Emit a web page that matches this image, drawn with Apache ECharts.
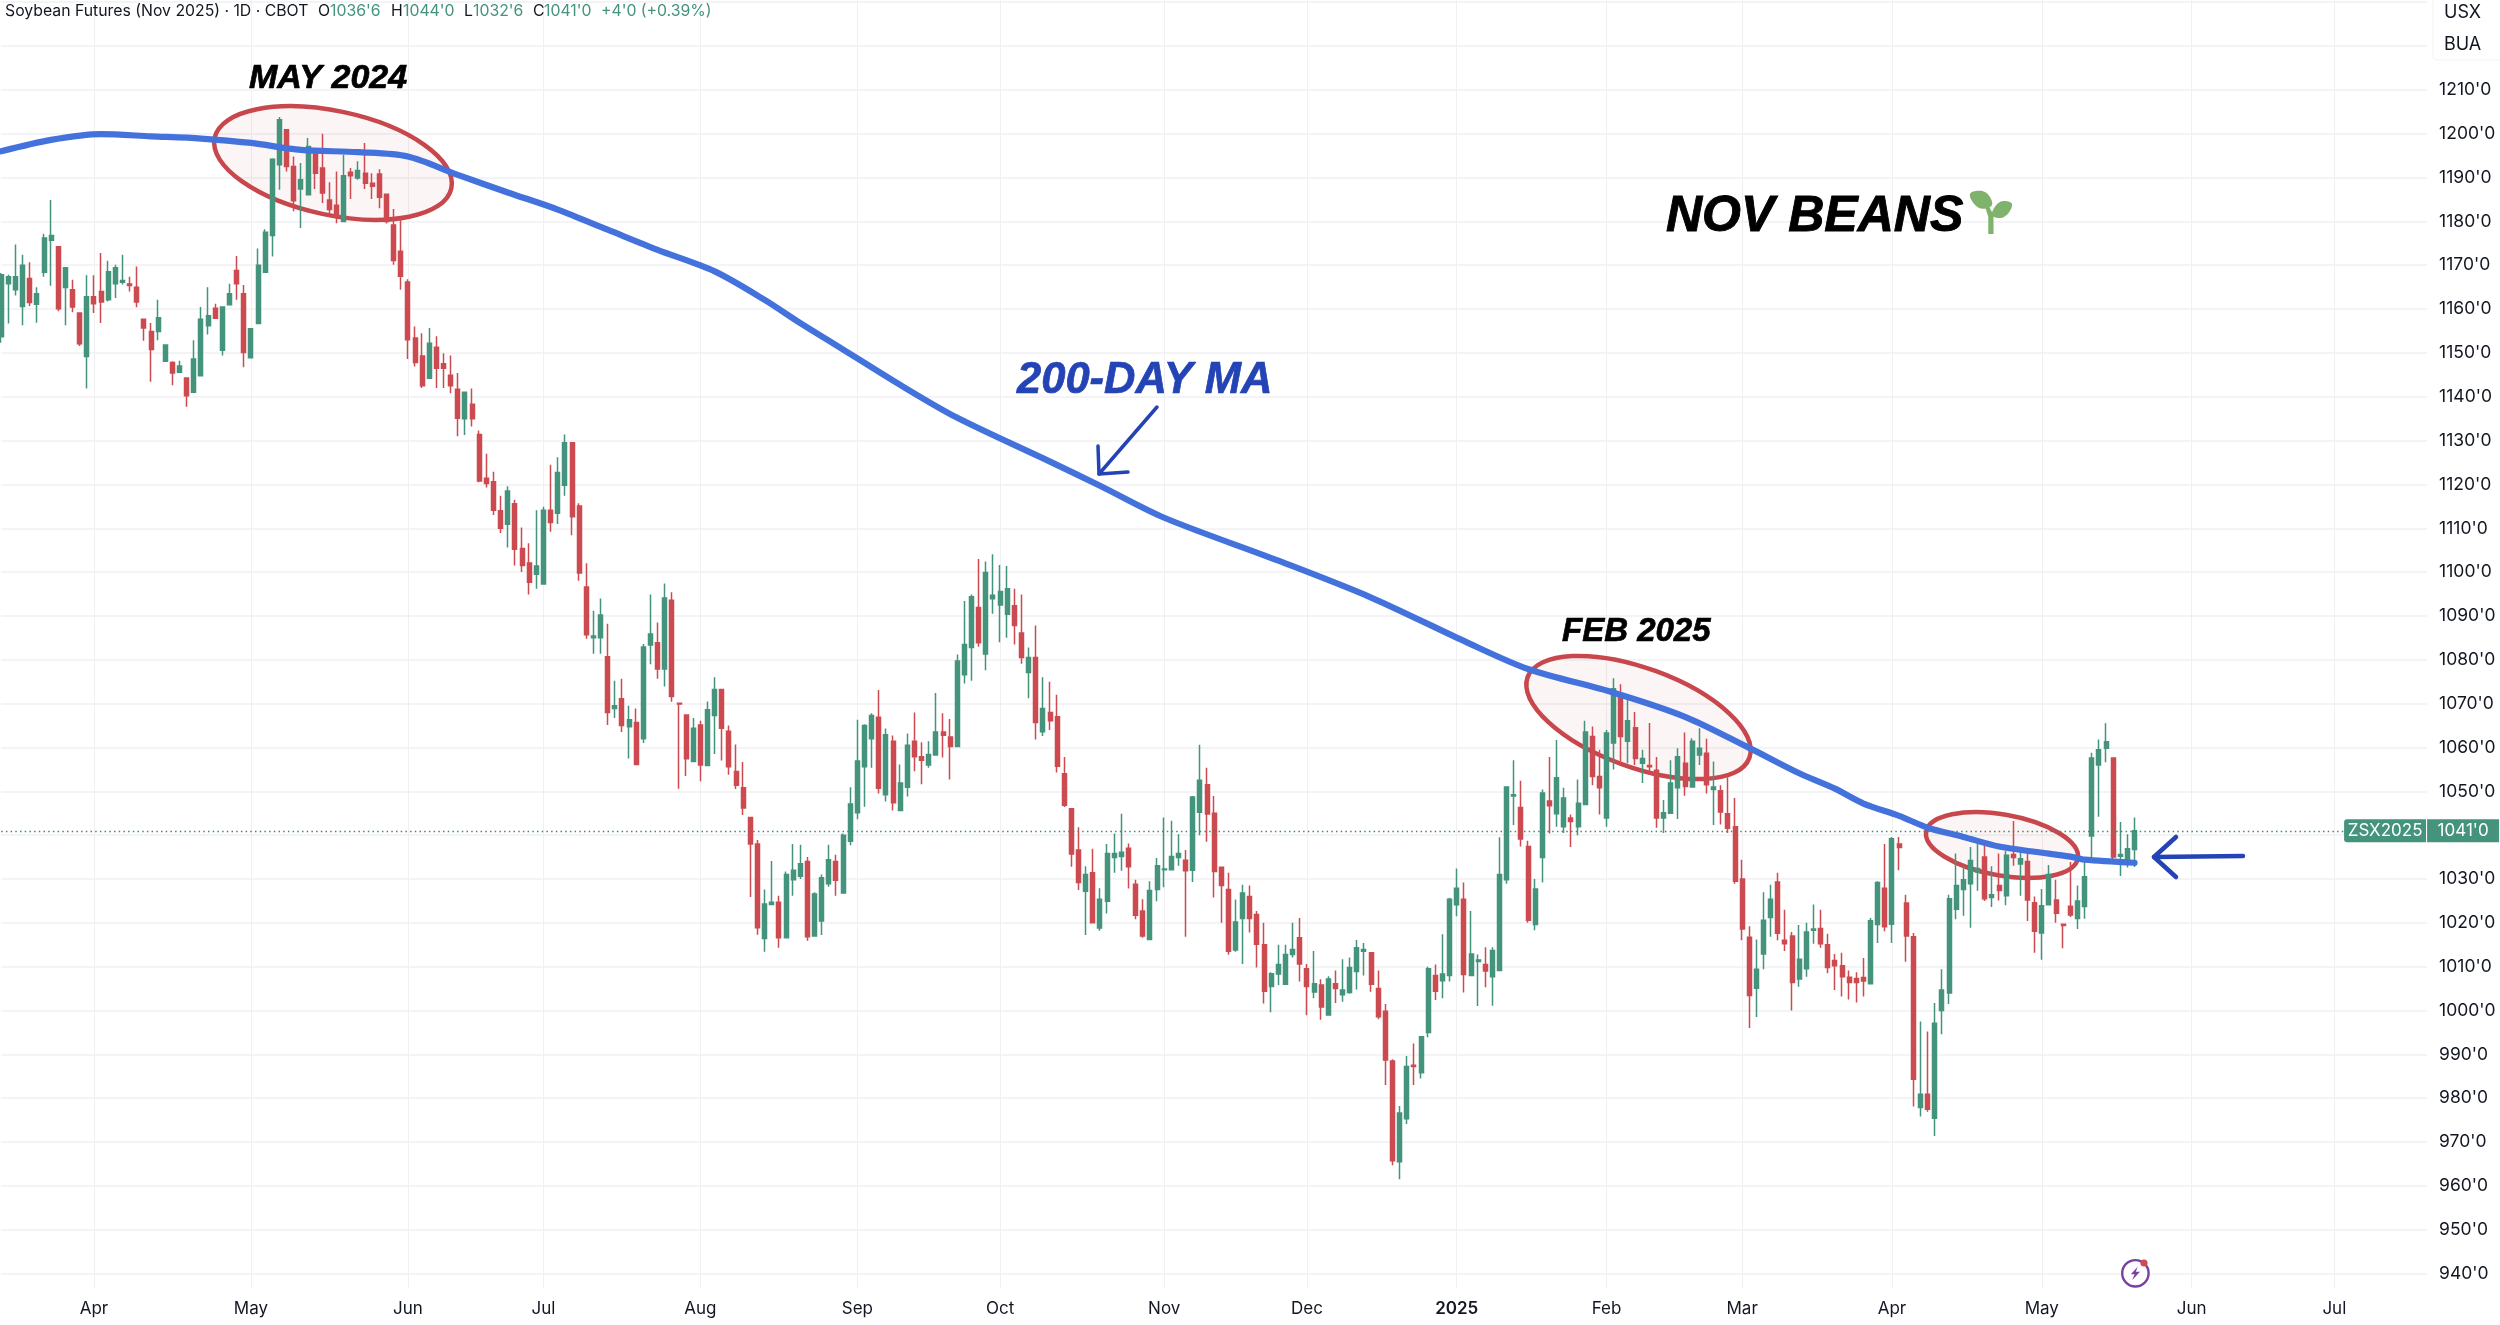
<!DOCTYPE html>
<html><head><meta charset="utf-8">
<style>html,body{margin:0;padding:0;background:#fff}#c{width:2500px;height:1325px}</style>
<script src="https://cdn.jsdelivr.net/npm/echarts@6/dist/echarts.min.js"></script>
</head><body><div id="c"></div>
<script>
const opens=[
1153.7,1165.8,1164.4,1160.6,1167,1161.1,1168.4,1175.7,1174.2,1164.9,
1164.4,1159.1,1149.2,1162.8,1164,1162.1,1165.8,1166.1,1165.7,1165,
1157.7,1154.9,1154.9,1148.1,1147.8,1145.6,1144.3,1141,1144.8,1156.2,
1160.2,1150.6,1161,1168.8,1163.5,1148.9,1156.7,1168.4,1176.8,1192.9,
1200.9,1192.5,1187.4,1186.1,1196,1192.2,1184.9,1183.7,1180,1191.2,
1189.9,1191,1188.7,1190.8,1186.2,1179.2,1173.2,1166.2,1153.4,1149.3,
1144.2,1151.3,1147.5,1144.9,1141.7,1135,1138.3,1131.4,1121.4,1120.6,
1114,1110.9,1115.6,1105.4,1102.1,1099.5,1097.3,1114.1,1113.4,1119.8,
1129.5,1115.1,1096.6,1085,1085,1080.7,1068.9,1071.1,1064.7,1065.7,
1062,1083.4,1083.9,1077.9,1093.6,1070.1,1067.4,1056.8,1065.1,1055.9,
1067.3,1073.2,1063.7,1054.5,1050.8,1044,1038,1016.4,1024.2,1024.7,
1016.6,1029.8,1030.6,1034,1017,1020.4,1028.9,1034,1026.8,1038.6,
1045.1,1055.6,1062,1066.9,1049.2,1061.4,1045.6,1050.9,1061.4,1057.9,
1056,1058.3,1063.5,1062.4,1060.2,1076.6,1082.8,1091.9,1081.3,1093.9,
1092.5,1090.4,1092.3,1086.1,1077.1,1080.5,1063.6,1068,1067,1054,
1046,1036.6,1027.2,1031.4,1018.8,1024.9,1034.9,1035.1,1037,1028.8,
1022.7,1016.2,1027.6,1032.1,1032.1,1034.9,1034.3,1032,1045.2,1051.5,
1045,1032.7,1027.6,1013.8,1021,1026,1021.9,1015,1005.5,1008.3,
1006,1012.8,1016.6,1009.5,1004.2,1005.8,999,1006.1,1003.6,1004.1,
1008.9,1013.5,1013.2,1005,999.8,988.5,965.5,975.3,987.5,985.8,
995,1008,1006.8,1008,1024.1,1025.4,1008,1011.2,1010.5,1007.7,
1009.1,1029.8,1048.9,1046.3,1037.4,1019.6,1034.9,1047.8,1044.9,1041.9,
1043.9,1041.9,1047,1062.5,1053.4,1043.9,1061,1072,1061.4,1064.5,
1056.4,1055.9,1054.8,1043.9,1045,1050.8,1056.4,1051,1058.3,1058.7,
1050.4,1050.1,1044.9,1041.9,1030,1016.7,1005.1,1012.9,1021.2,1029.3,
1016,1017,1007.2,1009.5,1018.3,1018.7,1015,1011.4,1010.2,1007.6,
1007.3,1007.5,1006.1,1019.6,1027.9,1019.7,1038,1024.5,1016.8,977.9,
980.9,975.4,1000,1004,1023.1,1027.6,1028.9,1031.6,1035,1025.8,
1028.5,1026.2,1035.6,1033.4,1034,1024.6,1017.7,1024.1,1025.2,1019.7,
1023.8,1021,1023.7,1039.8,1056,1059.8,1057.6,1035.2,1034.4,1036.75];
const closes=[
1167.8,1167.4,1167.4,1170,1161.5,1163.5,1176.2,1176.8,1160.1,1169.4,
1160.5,1152.1,1162.8,1161.2,1161.6,1168.5,1169.4,1166.5,1165.4,1161.6,
1155.7,1150.8,1158,1151.8,1145.4,1147,1140.2,1148.6,1157.7,1158.5,
1157.9,1160.5,1163.5,1165.8,1150.1,1155.5,1170,1177.5,1194.2,1203.2,
1192.5,1184.7,1189.5,1197.1,1191,1186.5,1182.7,1181.1,1190.4,1190.4,
1191.6,1188.7,1188,1185.5,1180,1171.1,1167.5,1153,1147.8,1142.5,
1152.2,1146.5,1146.5,1142.5,1135.1,1141,1135,1120.8,1120.2,1114.1,
1110,1118.5,1105.2,1101.5,1097.7,1101.4,1114.1,1111.3,1122.7,1129.5,
1112.6,1099.8,1085.7,1085.4,1090.2,1068,1069.5,1065,1066.3,1056.1,
1082.9,1085.9,1077.9,1094.1,1071.6,1069.9,1057.4,1064.4,1056,1068.6,
1073.2,1064.4,1055.6,1051.4,1046.2,1038,1018.9,1024.3,1024.7,1016.6,
1031,1032,1033.5,1016.8,1026.6,1030.3,1034.4,1029.7,1040,1047.1,
1056.9,1065,1067.3,1050.7,1062.9,1047.4,1051.9,1060.5,1057.9,1057.1,
1058.4,1063.5,1062.8,1060.2,1079.7,1083.5,1094.4,1083.9,1099.9,1094.7,
1095.6,1096.2,1087.8,1080.5,1080.5,1065.7,1068.9,1066.1,1055.7,1046.8,
1035.7,1029.2,1031,1020,1025.4,1035.8,1035.8,1036.1,1032.8,1021.7,
1017,1027.4,1033,1032.3,1035.1,1035.8,1031.9,1048.7,1052.5,1044.8,
1031.7,1028.5,1013.5,1020.2,1026.8,1021,1015.1,1004.4,1008.4,1010.5,
1012.8,1013.9,1010.6,1005.5,1006.1,1000.8,1007.2,1005,1004.7,1009.8,
1014.3,1013.9,1006,998.6,988.7,965.7,976.6,987.2,987.2,994,
1009.5,1004.4,1008.3,1025.4,1027.9,1008.2,1012.9,1011.5,1009,1013.7,
1031,1051,1049.2,1039.1,1020.6,1027.7,1049.6,1046.7,1053.1,1048.5,
1043.1,1047.3,1063.5,1053.4,1050.8,1063.3,1073.4,1062.5,1066.1,1057.5,
1057.5,1055.6,1043.9,1045.1,1051.9,1057.9,1051.1,1061.4,1059.8,1051.5,
1051,1045.3,1041.6,1029.5,1018.6,1003.4,1009.4,1020.6,1025.4,1017.6,
1015.2,1006.4,1011.7,1017.9,1018.6,1015.2,1009.8,1010.2,1007.7,1006.4,
1006.4,1006.7,1020.5,1029.2,1019.1,1039.2,1037.2,1017,984.3,980.9,
977.5,997.1,1004.7,1025.5,1028.5,1029.8,1034.2,1032.4,1025.5,1026.4,
1027.4,1035.4,1034.9,1034.6,1025.2,1018.1,1023.9,1031,1022.2,1019.4,
1021.8,1025,1030.5,1057.6,1059.5,1061.3,1035,1035.6,1036.9,1041];
const lows=[
1152.3,1156.7,1163.1,1156.3,1160.7,1156.9,1167.4,1165.3,1159.5,1156.3,
1159.3,1151.6,1141.9,1159.1,1156.8,1161.7,1162.5,1165.6,1164,1160.4,
1152.8,1143.4,1152.9,1148.1,1142.6,1145.5,1137.7,1141,1144.8,1154.2,
1157.9,1149.4,1161,1162.1,1146.7,1148.9,1156.7,1168.4,1172,1187.2,
1191.4,1182.3,1178.5,1186.1,1187.4,1184.2,1181.9,1179.6,1180,1185.1,
1189.5,1187.4,1185.1,1183,1179.5,1170.1,1164.4,1148.6,1146.9,1142,
1144.2,1142,1142,1140.8,1131,1131.3,1133.2,1120.5,1119.3,1113,
1108.9,1105.6,1101.5,1100,1094.9,1096.2,1097.3,1109.2,1111,1117.4,
1108.4,1098,1084.8,1081.4,1081.4,1065.1,1066.7,1063.5,1057.5,1056.1,
1061,1079,1075.7,1073.9,1070.4,1050.6,1053.5,1056.8,1052.3,1055.9,
1058.5,1057,1053.8,1050.5,1044.6,1025.9,1017.3,1013.4,1024.2,1014.3,
1016.6,1026.2,1030,1015.9,1017,1017.2,1028.2,1026.2,1026.8,1037.7,
1043.6,1046.5,1055.4,1049.5,1047.7,1045.6,1045.6,1048.8,1054.6,1051.6,
1055.4,1058.3,1057.7,1052.7,1060.2,1074.6,1075.2,1083,1077.6,1090.5,
1084,1085,1083.5,1079.1,1071.2,1061.8,1062.6,1064,1054.3,1046.4,
1032.8,1027.5,1017.2,1020,1018.2,1022.1,1031.4,1031.9,1027.8,1020.8,
1016.6,1016,1024.9,1028.1,1032.1,1033,1016.8,1029.3,1040,1038.5,
1025.8,1020,1012.7,1013.4,1010.6,1017.8,1009.8,1001.6,999.6,1005.8,
1005.8,1012.1,1006.6,998.9,1002.8,997.9,999,1001.7,1002,1003.8,
1004.8,1008,1004.3,998,983,964.7,961.5,974.1,983,984.5,
993.9,1002.4,1002.8,1006.6,1021.5,1004.1,1008,1001,1005.3,1001.1,
1009.1,1028.9,1042.3,1037.4,1020,1018.3,1029.2,1040.4,1041.9,1040.5,
1037.3,1040,1047,1051.4,1044.7,1041.9,1055,1056.8,1056.4,1056,
1051.9,1053.7,1041.7,1040.5,1045,1043.7,1049,1051,1056,1049.5,
1042.3,1042.4,1040.5,1028.9,1016,996,998.5,1009.4,1016.8,1016,
1013.6,1000,1005.4,1007.7,1015.2,1014.3,1008.5,1004.7,1003.2,1002.5,
1001.8,1003.2,1006.1,1015.4,1018.1,1015.4,1032,1011.1,978.1,975.8,
976.9,971.4,994.6,1001.5,1020.8,1021.6,1018.9,1027.3,1025,1023.6,
1025.1,1024,1033,1026.2,1020.4,1013.2,1011.6,1024.1,1020,1014.2,
1021.3,1018.6,1020.9,1035,1044.2,1056.6,1034.2,1030.7,1032.6,1032.75];
const highs=[
1168.2,1167.8,1174.7,1172.4,1170.7,1165,1177.2,1184.9,1174.2,1169.4,
1166.7,1159.1,1167.7,1167.7,1172.8,1171,1170.1,1172.4,1167.4,1169.7,
1157.7,1156.8,1162.1,1151.8,1148.1,1148.2,1144.3,1152.9,1160.5,1165,
1161.2,1160.5,1165.8,1172.1,1165.5,1155.5,1173.8,1178.2,1194.4,1203.8,
1200.9,1194.8,1193.3,1199,1196.3,1200,1188.9,1191.4,1195.2,1192.2,
1193.7,1197.9,1191,1191.9,1186.2,1182.8,1180.8,1166.8,1156,1154.5,
1155.7,1153.8,1149.9,1149.4,1145.4,1141,1141.9,1132.3,1127,1122.9,
1117.4,1119.6,1116.5,1110.2,1106.6,1114.1,1114.9,1124.5,1126.2,1131.4,
1129.5,1115.7,1102,1091.2,1094,1088.2,1075.2,1075.7,1069.5,1068.9,
1083.6,1094.9,1088.5,1097.4,1095.4,1070.1,1067.4,1066.7,1066.1,1070.5,
1076,1073.4,1065,1060.7,1056.7,1044,1038.9,1027.6,1034.1,1026.2,
1031.7,1038,1037.8,1035,1027,1031,1037.8,1035.5,1040.4,1050.9,
1066.3,1065.3,1067.8,1073.1,1064.3,1062.7,1056.1,1063.2,1068,1061.2,
1061.4,1072.4,1067.8,1066.5,1081.2,1093.4,1094.9,1103,1102.4,1104.1,
1101.6,1101.4,1096.2,1094.9,1082.8,1087.8,1076,1075,1072,1057.8,
1046,1041.8,1032.9,1036.9,1027.9,1038,1040.4,1044.9,1038.1,1029.8,
1025.4,1029.5,1034.8,1044,1043.3,1040.2,1036.6,1048.9,1060.6,1055.4,
1048.9,1032.7,1031.4,1025.3,1028.7,1028.5,1022.7,1020,1008.7,1015,
1015,1020,1021.1,1010.6,1013.6,1007.1,1007.8,1009.1,1011.7,1012.1,
1016.1,1015.4,1013.2,1009.1,1001.5,988.9,978.2,989.6,992.5,994,
1010,1010.5,1017.4,1025.7,1032.4,1029.2,1022.7,1012.8,1014.4,1014.4,
1039.5,1051.1,1057.1,1052.4,1038.7,1030,1050.4,1057.8,1061.7,1050.8,
1044.7,1052.7,1066.1,1064.8,1059.5,1064,1075.8,1074.4,1071.5,1068.1,
1059.5,1065.6,1057.8,1048,1057.1,1059.8,1063.4,1062.1,1064.4,1062,
1056.8,1051.4,1053.2,1048.5,1034.4,1019.2,1016.2,1027,1028.7,1031.4,
1023,1017.9,1019.5,1020,1024.2,1023,1017.5,1012.9,1013.2,1009.1,
1008.7,1012,1021.1,1029.5,1038,1039.6,1039.6,1026.4,1017.7,997.5,
995.2,1001.7,1009.4,1026.4,1035.8,1033.1,1037.3,1038.5,1037.7,1032.9,
1035.8,1036.4,1043.2,1036.2,1035.7,1026,1027.7,1033.2,1029.8,1019.7,
1033.9,1028.5,1034,1058.8,1061.8,1065.5,1057.6,1043,1040.2,1044];
const maIndex=[0,7,14,21,28,35,42,50,57,64,71,78,85,92,100,107,112,117,126,134,147,154,163,179,192,205,214,226,236,245,252,257,261,266,270,275,280,285,290,292,299];
const maValues=[1196,1198.6,1199.9,1199.4,1198.9,1197.9,1196.3,1195.8,1194.8,1190.6,1186.6,1182.7,1178.1,1173.5,1168.6,1162.1,1156.8,1151.8,1142.7,1135.2,1125.2,1119.7,1112.4,1102.6,1094.2,1084.3,1077.9,1072.5,1067,1059.9,1054.1,1050.6,1047.2,1044.4,1041.7,1039.6,1037.4,1036.2,1035.1,1034.4,1033.7];
const monthLabels=['Apr','May','Jun','Jul','Aug','Sep','Oct','Nov','Dec','2025','Feb','Mar','Apr','May','Jun','Jul'];
const monthStarts=[13,35,57,76,98,120,140,163,183,204,225,244,265,286,307,327];
const slotCount=341;
const priceTicks=[940,950,960,970,980,990,1000,1010,1020,1030,1040,1050,1060,1070,1080,1090,1100,1110,1120,1130,1140,1150,1160,1170,1180,1190,1200,1210];
const gridTicks=priceTicks.concat([1220,1230]);
const lastClose=1041;

const GREEN='#44937c',RED='#cc4a50',BLUE='#2443b4',FONT='Inter, "Liberation Sans", sans-serif',ANN='"Liberation Sans", Arial, sans-serif';
const cats=[];for(let i=0;i<slotCount;i++){const k=monthStarts.indexOf(i);cats.push(k>=0?monthLabels[k]:'');}
const isMonth=(i)=>monthStarts.indexOf(i)>=0;
const candle=opens.map((o,i)=>[o,closes[i],lows[i],highs[i]]);
const ma=maIndex.map((x,i)=>[x,maValues[i]]);
const deg=Math.PI/180;
function ell(cx,cy,a,b,r){return {type:'ellipse',z:1,x:cx,y:cy,rotation:-r*deg,shape:{cx:0,cy:0,rx:a,ry:b},style:{fill:'rgba(205,70,75,0.055)',stroke:'#c8474d',lineWidth:4.5}};}
function txt(t,x,y,font,fill,sw){return {type:'text',z:10,x:x,y:y,style:{text:t,font:font,fill:fill,textVerticalAlign:'middle',stroke:sw?fill:null,lineWidth:sw||0}};}
function pl(points,w,c){return {type:'polyline',z:10,shape:{points:points},style:{stroke:c,lineWidth:w,fill:null,lineCap:'round',lineJoin:'round'}};}
const headerChunks=[
 ['Soybean Futures (Nov 2025) · 1D · CBOT',5,'#131722'],['O',318,'#131722'],["1036'6",330,GREEN],['H',391,'#131722'],["1044'0",403,GREEN],
 ['L',464,'#131722'],["1032'6",473,GREEN],['C',533,'#131722'],["1041'0",544,GREEN],["+4'0 (+0.39%)",601,GREEN]];
const graphics=[
 ell(333,163,121,52,12),ell(1638.5,717.5,118,49.5,20),ell(2002,845,77,30.5,10),
 txt('MAY 2024',249,78.5,'italic bold 34px '+ANN,'#000',0.7),
 txt('FEB 2025',1562,632,'italic bold 33px '+ANN,'#000',0.7),
 txt('200-DAY MA',1017,380.5,'italic bold 43.5px '+ANN,BLUE,0.7),
 txt('NOV BEANS',1666,217,'italic bold 50px '+ANN,'#000',0.9),
 pl([[1157,407],[1099,474]],3.5,BLUE),pl([[1098,446],[1099,474],[1128,472]],3.5,BLUE),
 pl([[2243,856],[2154,857]],4.5,BLUE),pl([[2176,837],[2154,857],[2176,877]],4.5,BLUE),
 {type:'polygon',z:10,shape:{points:[[1988.3,234],[1993.5,234],[1993.5,215],[1988.3,205],[1985.5,208],[1988.3,217]]},style:{fill:'#7fb26a'}},
 {type:'polygon',z:10,shape:{smooth:0.4,points:[[1970,194],[1985,192],[1992,205],[1979,208]]},style:{fill:'#7fb26a'}},
 {type:'polygon',z:10,shape:{smooth:0.4,points:[[2012,204],[2000,202],[1992,215],[2004,217]]},style:{fill:'#7fb26a'}},
 {type:'rect',z:10,shape:{x:2433,y:-6,width:72,height:66,r:4},style:{fill:'#fff',stroke:'#f2f2f4',lineWidth:1}},
 txt('USX',2444,13,'18px '+FONT,'#131722'),txt('BUA',2444,45,'18px '+FONT,'#131722'),
 {type:'circle',z:10,shape:{cx:2135.4,cy:1273.3,r:13.2},style:{fill:'#fff',stroke:'#7b3fa0',lineWidth:2.4}},
 {type:'polygon',z:11,shape:{points:[[2137.7,1266.7],[2130.8,1274.3],[2134.6,1274.3],[2132.3,1280],[2140,1271.7],[2135.8,1271.7]]},style:{fill:'#7b3fa0'}},
 {type:'circle',z:11,shape:{cx:2144,cy:1263,r:3.6},style:{fill:'#cf4a50'}}
].concat(headerChunks.map(h=>txt(h[0],h[1],11,'15.8px '+FONT,h[2])));

const chart=echarts.init(document.getElementById('c'),null,{renderer:'canvas'});
chart.setOption({
 animation:false,backgroundColor:'#fff',
 grid:{left:1.2,top:0,width:340*7.135,height:1288,containLabel:false},
 graphic:{elements:graphics},
 xAxis:{type:'category',data:cats,boundaryGap:false,
  axisLine:{show:false},axisTick:{show:false},
  axisLabel:{interval:(i)=>isMonth(i),margin:12,fontFamily:'Inter',fontSize:17,color:'#131722',hideOverlap:false,
    formatter:(v)=>v==='2025'?'{b|2025}':v,rich:{b:{fontWeight:600,fontFamily:'Inter',fontSize:17,color:'#131722'}}},
  splitLine:{show:true,interval:(i)=>isMonth(i),lineStyle:{color:'#f0f0f3',width:1}}},
 yAxis:{type:'value',position:'right',min:936.7,max:1230.5,scale:true,
  axisLine:{show:false},axisTick:{show:false,customValues:gridTicks},
  axisLabel:{customValues:priceTicks,margin:12,padding:[3,0,0,0],fontFamily:'Inter',fontSize:17.5,color:'#131722',formatter:(v)=>v+"'0"},
  splitLine:{show:true,lineStyle:{color:'#f0f0f3',width:1.5}}},
 series:[
  {type:'candlestick',data:candle,barWidth:4.5,clip:false,z:3,
   itemStyle:{color:GREEN,color0:RED,borderColor:GREEN,borderColor0:RED,borderWidth:1.5},
   markLine:{silent:true,symbol:'none',animation:false,data:[{yAxis:lastClose}],
    lineStyle:{type:[1.5,3.2],color:'#3d8a74',width:1.3},
    label:{show:true,position:'end',distance:-83,formatter:"{a|ZSX2025}{s|}{b|1041'0}",
     rich:{a:{backgroundColor:GREEN,color:'#fff',fontFamily:'Inter',fontSize:17,width:82,height:23,lineHeight:23,align:'center',borderRadius:[3,0,0,3]},
           s:{width:1,height:23,backgroundColor:'#fff'},
           b:{backgroundColor:GREEN,color:'#fff',fontFamily:'Inter',fontSize:17,width:72,height:23,lineHeight:23,align:'center'}}}}},
  {type:'line',data:ma,smooth:0.3,showSymbol:false,z:4,clip:false,lineStyle:{color:'#4472dc',width:6.2,cap:'round'}}
 ]
});
</script></body></html>
